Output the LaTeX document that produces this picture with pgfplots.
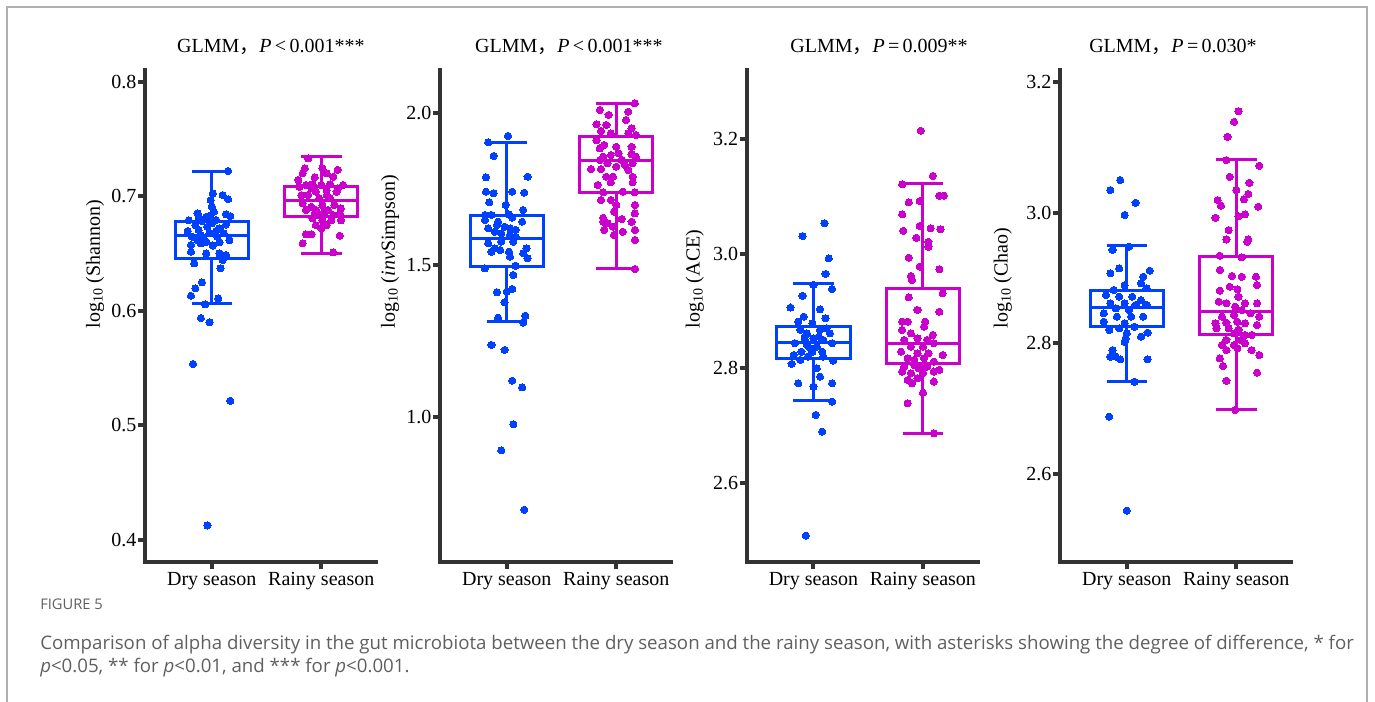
\documentclass[border=0pt]{standalone}
\usepackage{fontspec}
\setmainfont{Liberation Serif}
\newfontfamily\capfont{Open Sans}
\newfontfamily\cjk{Noto Sans CJK SC}
\usepackage{pgfplots}
\pgfplotsset{compat=1.18}
\usepgfplotslibrary{statistics}
\definecolor{dryc}{RGB}{0,64,255}
\definecolor{rainc}{RGB}{204,0,204}
\definecolor{axgray}{RGB}{51,51,51}
\definecolor{framegray}{RGB}{175,175,175}
\definecolor{capgray}{RGB}{95,95,95}
\newcommand\ff{\fontsize{15}{18}\selectfont}
\pgfplotsset{panel/.style={
  scale only axis, width=173.25pt, height=369.2pt, anchor=south west,
  axis lines*=left, axis line style={-, line width=3pt, color=axgray, line cap=rect},
  xmin=0.39, xmax=2.5, xtick={1,2}, xticklabels={Dry season,Rainy season},
  tick align=outside, major tick length=5.25pt,
  tick style={line width=3pt, color=axgray},
  ticklabel style={font=\ff},
  xticklabel style={inner sep=2pt},
  yticklabel style={inner sep=1pt, /pgf/number format/fixed, /pgf/number format/fixed zerofill, /pgf/number format/precision=1},
  /pgf/number format/assume math mode=true,
  label style={font=\ff}, title style={font=\ff, anchor=base},
  ylabel style={anchor=west},
  boxplot/draw direction=y,
  clip=false,
},
dryb/.style={draw=dryc, line width=2.25pt, solid},
rainb/.style={draw=rainc, line width=2.25pt, solid},
dryp/.style={only marks, mark=*, mark size=2.7pt, color=dryc, mark options={draw=dryc, fill=dryc, line width=0pt}},
rainp/.style={only marks, mark=*, mark size=2.7pt, color=rainc, mark options={draw=rainc, fill=rainc, line width=0pt}},
}
\begin{document}
\begin{tikzpicture}[x=0.75pt,y=0.75pt]
\useasboundingbox (0,0) rectangle (1375,702);
\draw[framegray, line width=1.1pt] (7,0) -- (7,695) -- (1367,695) -- (1367,0);

% Panel 1: Shannon
\begin{axis}[panel, at={(108.75pt,104.775pt)}, ymin=0.3804, ymax=0.8102, ytick={0.4,0.5,0.6,0.7,0.8},
  ylabel={log\textsubscript{10} (Shannon)}, ylabel style={at={(axis description cs:-0.2165,0.4658)}},
  title={GLMM{\cjk ，}\textit{P}\,<\,0.001***}, title style={at={(axis description cs:0.545,1.0203)}}]
\addplot[dryb, boxplot prepared={draw position=1, median=0.6661, upper quartile=0.6777, lower quartile=0.6458, upper whisker=0.7214, lower whisker=0.6065, box extend=0.67, whisker extend=0.37}] coordinates {};
\addplot[rainb, boxplot prepared={draw position=2, median=0.6967, upper quartile=0.7083, lower quartile=0.6821, upper whisker=0.7345, lower whisker=0.6501, box extend=0.67, whisker extend=0.37}] coordinates {};
\addplot[dryp] table {
1.15 0.722
0.99 0.6967
1.10 0.701
1.15 0.6975
1.00 0.691
1.02 0.6865
1.13 0.6842
1.17 0.6827
0.87 0.685
0.95 0.682
0.79 0.679
0.98 0.6777
0.81 0.6574
0.90 0.6589
1.07 0.6597
1.16 0.6617
0.82 0.6646
0.93 0.6626
0.98 0.6676
1.04 0.6696
1.11 0.6676
0.78 0.6696
0.88 0.6705
0.96 0.6734
1.07 0.672
0.85 0.6748
1.00 0.6763
1.13 0.6754
0.91 0.6783
1.04 0.6792
0.88 0.682
0.98 0.683
0.90 0.666
0.95 0.660
1.01 0.657
1.05 0.6646
0.87 0.6617
0.84 0.6414
1.08 0.637
1.10 0.6443
0.95 0.650
1.07 0.650
0.81 0.6515
1.13 0.6487
0.81 0.6131
0.85 0.6196
0.91 0.6248
1.06 0.6108
0.94 0.6056
0.90 0.5936
0.98 0.5901
0.83 0.5535
1.17 0.5214
0.96 0.4126
1.01 0.7025
};
\addplot[rainp] table {
1.88 0.7331
2.11 0.651
1.83 0.6589
1.86 0.6667
1.91 0.6667
2.17 0.6655
1.95 0.6748
2.01 0.679
2.05 0.6748
1.92 0.6807
2.11 0.6836
2.17 0.685
1.86 0.688
1.95 0.688
2.06 0.688
1.83 0.6938
1.91 0.6908
2.01 0.6923
2.12 0.6923
2.18 0.6894
1.98 0.6982
2.08 0.6982
1.88 0.701
1.95 0.704
2.05 0.7054
2.14 0.704
2.20 0.7098
1.80 0.7083
1.86 0.7098
1.92 0.7104
2.00 0.7098
2.08 0.7104
2.15 0.7069
1.79 0.7142
1.94 0.7165
2.11 0.717
2.05 0.72
1.85 0.7244
2.01 0.7244
2.15 0.723
1.83 0.72
1.82 0.701
2.03 0.6865
1.98 0.6836
2.09 0.679
2.18 0.679
2.00 0.672
1.94 0.685
2.05 0.701
1.91 0.7069
};
\end{axis}

% Panel 2: invSimpson
\begin{axis}[panel, at={(330pt,104.775pt)}, ymin=0.524, ymax=2.140, ytick={1.0,1.5,2.0},
  ylabel={log\textsubscript{10} (\textit{inv}Simpson)}, ylabel style={at={(axis description cs:-0.2165,0.4658)}},
  title={GLMM{\cjk ，}\textit{P}\,<\,0.001***}, title style={at={(axis description cs:0.558,1.0203)}}]
\addplot[dryb, boxplot prepared={draw position=1, median=1.588, upper quartile=1.664, lower quartile=1.494, upper whisker=1.903, lower whisker=1.314, box extend=0.67, whisker extend=0.37}] coordinates {};
\addplot[rainb, boxplot prepared={draw position=2, median=1.842, upper quartile=1.921, lower quartile=1.739, upper whisker=2.031, lower whisker=1.489, box extend=0.67, whisker extend=0.37}] coordinates {};
\addplot[dryp] table {
1.01 1.9235
0.83 1.9028
0.88 1.8578
0.81 1.788
1.19 1.790
0.81 1.7406
0.88 1.7354
0.84 1.706
1.05 1.7406
1.16 1.7374
0.99 1.697
1.15 1.6806
0.80 1.6642
0.86 1.6642
1.02 1.6664
1.05 1.6553
1.14 1.642
0.80 1.6477
0.92 1.642
0.83 1.6205
0.98 1.6257
1.08 1.615
0.89 1.609
0.95 1.604
1.03 1.5985
1.08 1.593
0.83 1.5712
0.95 1.5765
1.06 1.5765
0.89 1.5548
0.94 1.549
0.86 1.5437
1.02 1.5437
1.18 1.5548
1.15 1.5384
1.19 1.522
1.03 1.527
0.80 1.489
1.08 1.4977
1.06 1.4672
0.91 1.4104
1.00 1.4124
1.05 1.4212
0.98 1.3776
0.92 1.327
1.17 1.3336
1.15 1.311
0.86 1.2374
0.98 1.221
1.05 1.1202
1.14 1.0985
1.06 0.977
0.95 0.8916
1.16 0.6966
1.03 1.62
0.91 1.6313
};
\addplot[rainp] table {
2.17 2.0309
2.17 1.4869
1.85 2.009
1.93 1.9925
2.11 2.0033
1.82 1.962
1.91 1.9596
2.09 1.976
2.14 1.9488
1.86 1.94
1.95 1.9324
2.11 1.9324
2.18 1.9268
1.82 1.910
1.89 1.894
1.85 1.883
2.00 1.888
2.14 1.888
1.88 1.8555
1.95 1.861
2.02 1.8667
2.14 1.8634
2.18 1.8555
1.85 1.8447
2.05 1.8447
1.92 1.834
2.08 1.8283
2.15 1.834
1.77 1.815
1.86 1.815
2.00 1.8227
2.11 1.8119
1.91 1.79
2.15 1.79
1.97 1.79
2.15 1.7715
1.83 1.7626
1.95 1.7715
1.88 1.7387
2.06 1.7406
2.17 1.7387
1.86 1.7134
1.95 1.7134
2.00 1.697
2.17 1.697
1.98 1.675
2.17 1.6697
1.88 1.655
1.92 1.6369
1.88 1.642
2.05 1.651
2.14 1.642
1.97 1.6257
1.89 1.615
2.06 1.609
2.17 1.615
1.98 1.5985
2.17 1.582
};
\end{axis}

% Panel 3: ACE
\begin{axis}[panel, at={(560.025pt,104.775pt)}, ymin=2.461, ymax=3.321, ytick={2.6,2.8,3.0,3.2},
  ylabel={log\textsubscript{10} (ACE)}, ylabel style={at={(axis description cs:-0.224,0.4658)}},
  title={GLMM{\cjk ，}\textit{P}\,=\,0.009**}, title style={at={(axis description cs:0.573,1.0203)}}]
\addplot[dryb, boxplot prepared={draw position=1, median=2.8454, upper quartile=2.8727, lower quartile=2.8175, upper whisker=2.9473, lower whisker=2.7429, box extend=0.67, whisker extend=0.37}] coordinates {};
\addplot[rainb, boxplot prepared={draw position=2, median=2.8437, upper quartile=2.9397, lower quartile=2.8087, upper whisker=3.1231, lower whisker=2.6865, box extend=0.67, whisker extend=0.37}] coordinates {};
\addplot[dryp] table {
1.10 3.0533
0.90 3.031
1.14 2.9921
1.11 2.9647
1.17 2.9385
0.90 2.9263
1.00 2.9455
0.79 2.906
1.06 2.903
0.91 2.8902
1.11 2.8873
0.86 2.8814
0.99 2.8786
0.88 2.8669
1.06 2.8669
1.15 2.861
0.92 2.8552
1.00 2.8524
1.09 2.8494
0.83 2.8437
0.94 2.8407
1.03 2.8377
1.17 2.8437
0.89 2.829
0.99 2.829
1.08 2.829
0.82 2.8232
0.95 2.8203
1.09 2.8203
0.88 2.8145
1.18 2.8133
0.80 2.8075
1.03 2.8
1.06 2.7853
0.86 2.7738
1.17 2.7738
1.00 2.7679
1.17 2.7417
1.02 2.7184
1.08 2.6893
0.93 2.5076
0.94 2.861
1.05 2.8552
1.12 2.87
0.92 2.8494
0.97 2.835
};
\addplot[rainp] table {
1.98 3.215
2.09 3.136
1.81 3.1214
2.15 3.1015
2.19 3.1015
1.87 3.09
1.97 3.0922
1.81 3.069
1.82 3.04
1.97 3.0486
2.07 3.0446
2.16 3.0428
1.94 3.028
2.05 3.0211
2.05 3.0124
1.87 2.9932
1.97 2.9775
2.15 2.973
1.89 2.9612
1.90 2.9542
2.18 2.931
1.87 2.924
1.95 2.9018
2.15 2.8989
1.81 2.8814
1.86 2.8814
2.02 2.8814
1.81 2.8669
1.89 2.861
2.01 2.8727
2.09 2.8582
1.83 2.8494
1.95 2.8524
2.04 2.8494
2.10 2.8437
1.89 2.8377
2.00 2.8377
1.80 2.829
1.95 2.8262
2.05 2.8262
2.18 2.8232
1.86 2.8175
1.92 2.8145
2.01 2.8175
2.10 2.8116
1.83 2.8028
1.92 2.8058
1.96 2.8
2.04 2.8028
2.15 2.7971
1.81 2.7942
1.89 2.7913
2.00 2.7913
2.10 2.7942
1.86 2.7796
1.95 2.7826
1.90 2.7738
2.10 2.7767
2.00 2.7574
1.86 2.7389
2.10 2.6864
};
\end{axis}

% Panel 4: Chao
\begin{axis}[panel, at={(795pt,104.775pt)}, ymin=2.465, ymax=3.218, ytick={2.6,2.8,3.0,3.2},
  ylabel={log\textsubscript{10} (Chao)}, ylabel style={at={(axis description cs:-0.247,0.4658)}},
  title={GLMM{\cjk ，}\textit{P}\,=\,0.030*}, title style={at={(axis description cs:0.489,1.0203)}}]
\addplot[dryb, boxplot prepared={draw position=1, median=2.855, upper quartile=2.8815, lower quartile=2.8254, upper whisker=2.9492, lower whisker=2.7423, box extend=0.67, whisker extend=0.37}] coordinates {};
\addplot[rainb, boxplot prepared={draw position=2, median=2.8483, upper quartile=2.9335, lower quartile=2.8138, upper whisker=3.0818, lower whisker=2.699, box extend=0.67, whisker extend=0.37}] coordinates {};
\addplot[dryp] table {
0.94 3.0497
0.85 3.0344
1.08 3.015
0.98 2.9962
0.87 2.9427
1.02 2.9477
0.93 2.9147
0.85 2.907
1.21 2.911
1.15 2.9018
1.13 2.8917
0.98 2.889
0.88 2.8815
1.18 2.884
0.81 2.8738
0.93 2.8713
1.05 2.8713
1.13 2.8662
0.85 2.8611
0.98 2.8611
1.08 2.8586
1.18 2.8586
0.79 2.8459
0.90 2.8535
1.02 2.8509
0.91 2.8407
1.04 2.8407
1.15 2.8407
0.98 2.8306
0.84 2.8204
0.93 2.823
1.07 2.8254
1.00 2.8153
1.19 2.8163
1.13 2.8101
0.99 2.8076
0.98 2.8024
0.87 2.7897
0.85 2.7795
0.90 2.7795
0.94 2.7755
1.19 2.7755
1.07 2.7413
0.84 2.6878
1.00 2.544
0.79 2.833
};
\addplot[rainp] table {
2.02 3.1552
1.98 3.1388
1.92 3.1159
1.91 3.0803
2.21 3.0716
1.94 3.0547
2.12 3.0456
2.00 3.0344
2.11 3.0283
2.07 3.0202
1.83 3.0191
1.86 3.0104
2.20 3.0089
1.81 2.992
2.02 2.9946
2.08 2.9972
1.93 2.9732
1.91 2.9589
2.11 2.9589
2.10 2.9553
1.85 2.9339
2.05 2.9315
1.85 2.9121
1.96 2.903
2.05 2.9018
2.18 2.9018
2.19 2.8892
1.94 2.8866
1.85 2.8805
2.01 2.8826
2.02 2.8713
1.84 2.8636
1.91 2.8611
2.08 2.8611
2.19 2.8611
1.99 2.856
2.05 2.8509
2.13 2.8459
1.87 2.8407
1.98 2.8433
2.21 2.8407
1.91 2.8315
2.01 2.833
2.08 2.8306
2.19 2.828
1.81 2.8306
1.82 2.823
1.93 2.823
2.02 2.8204
1.98 2.8153
2.08 2.8127
2.14 2.8127
1.91 2.8051
2.04 2.8051
1.98 2.7974
1.87 2.7974
2.08 2.8
2.14 2.7897
2.01 2.7923
1.91 2.7897
2.21 2.782
1.85 2.777
1.88 2.7653
2.19 2.755
1.91 2.7428
1.99 2.698
};
\end{axis}

\node[anchor=base west, inner sep=0pt, font=\capfont\fontsize{11}{13}\selectfont, text=capgray] at (40,92) {FIGURE 5};
\node[anchor=base west, inner sep=0pt, font=\capfont\fontsize{14}{16}\selectfont, text=capgray] at (40,52) {Comparison of alpha diversity in the gut microbiota between the dry season and the rainy season, with asterisks showing the degree of difference, * for};
\node[anchor=base west, inner sep=0pt, font=\capfont\fontsize{14}{16}\selectfont, text=capgray] at (40,29) {\textit{p}<0.05, ** for \textit{p}<0.01, and *** for \textit{p}<0.001.};
\end{tikzpicture}
\end{document}
